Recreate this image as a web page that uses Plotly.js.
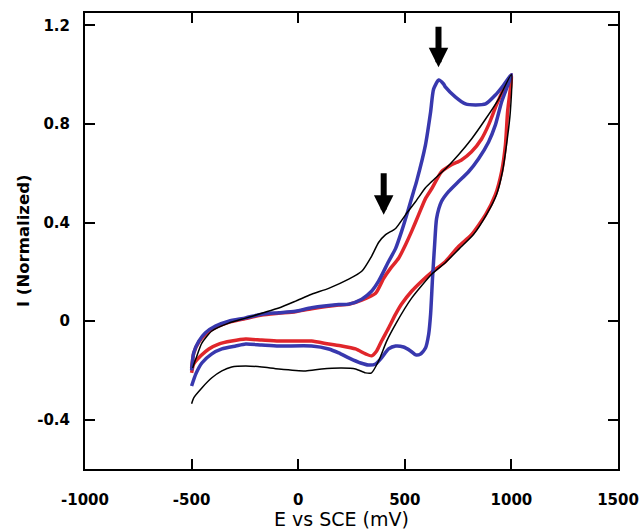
<!DOCTYPE html>
<html>
<head>
<meta charset="utf-8">
<script src="https://cdn.plot.ly/plotly-3.0.1.min.js"></script>
<style>html,body{margin:0;padding:0;background:#fff;}#chart{width:639px;height:529px;}</style>
</head>
<body>
<div id="chart"></div>
<script>
// Potential (mV) and normalized current for each voltammogram
const blackE = [-495,-480,-452,-405,-326,-246,-171,-91,-12,63,143,237,298,344,377,410,457,504,551,597,626,691,752,813,879,940,1000,
  995,977,958,930,883,822,757,691,626,532,457,415,377,344,316,269,204,110,35,-91,-171,-246,-312,-358,-405,-452,-490,-500];
const blackI = [-0.19,-0.153,-0.089,-0.040,-0.008,0.012,0.032,0.053,0.081,0.109,0.133,0.170,0.202,0.263,0.319,0.351,0.376,0.432,0.485,0.541,0.566,0.618,0.675,0.739,0.820,0.901,1.0,
  0.85,0.715,0.606,0.513,0.432,0.351,0.295,0.238,0.190,0.093,-0.012,-0.081,-0.162,-0.210,-0.210,-0.194,-0.190,-0.194,-0.202,-0.194,-0.186,-0.182,-0.186,-0.202,-0.230,-0.271,-0.311,-0.335];

const redE = [-500,-490,-466,-430,-385,-326,-247,-171,-91,-13,63,190,237,298,363,401,433,471,504,532,565,597,626,672,719,766,813,860,893,930,963,1000,
  982,972,954,925,879,813,752,691,626,579,532,485,457,424,391,368,344,316,269,204,143,63,-91,-171,-246,-312,-373,-419,-457,-490,-500];
const redI = [-0.19,-0.13,-0.085,-0.05,-0.025,-0.005,0.01,0.025,0.032,0.038,0.05,0.065,0.068,0.085,0.113,0.174,0.214,0.255,0.311,0.364,0.432,0.497,0.537,0.606,0.634,0.654,0.687,0.739,0.796,0.877,0.941,1.0,
  0.848,0.715,0.606,0.513,0.432,0.351,0.303,0.242,0.198,0.162,0.121,0.069,0.028,-0.028,-0.081,-0.121,-0.141,-0.133,-0.113,-0.101,-0.093,-0.081,-0.081,-0.077,-0.073,-0.081,-0.093,-0.113,-0.141,-0.174,-0.21];

const blueE = [-500,-490,-466,-435,-388,-326,-247,-171,-91,-13,63,190,237,298,344,377,401,424,457,485,518,541,555,597,621,635,659,682,691,738,785,832,879,925,963,1000,
  954,925,893,846,799,752,705,672,649,640,630,621,612,597,574,551,527,494,457,424,391,363,330,293,237,190,143,63,-91,-171,-246,-293,-358,-405,-452,-480,-500];
const blueI = [-0.2,-0.128,-0.081,-0.047,-0.020,0.0,0.013,0.028,0.034,0.040,0.054,0.067,0.069,0.089,0.121,0.162,0.202,0.242,0.295,0.364,0.457,0.525,0.566,0.715,0.848,0.941,0.978,0.962,0.949,0.909,0.881,0.877,0.881,0.917,0.957,1.0,
  0.889,0.796,0.727,0.659,0.606,0.566,0.525,0.485,0.416,0.311,0.174,0.028,-0.053,-0.109,-0.133,-0.137,-0.121,-0.105,-0.101,-0.113,-0.149,-0.174,-0.178,-0.170,-0.149,-0.129,-0.113,-0.101,-0.101,-0.097,-0.093,-0.101,-0.113,-0.133,-0.170,-0.214,-0.263];

const xTicks = [-1000,-500,0,500,1000,1500];
const yTicks = [-0.4,0,0.4,0.8,1.2];
const yTickText = ['-0.4','0','0.4','0.8','1.2'];
const xTitle = 'E vs SCE (mV)';
const yTitle = 'I (Normalized)';

// Arrow markers: [potential, head current, tail current]
const arrowE = [658, 401];
const arrowHead = [1.03, 0.432];
const arrowTail = [1.2, 0.606];

const traces = [
  {x: redE, y: redI, mode: 'lines', line: {color: '#e0262b', width: 3.5, shape: 'spline', smoothing: 0.6}, hoverinfo: 'skip'},
  {x: blueE, y: blueI, mode: 'lines', line: {color: '#3838ae', width: 3.5, shape: 'spline', smoothing: 0.6}, hoverinfo: 'skip'},
  {x: blackE, y: blackI, mode: 'lines', line: {color: '#000000', width: 1.5, shape: 'spline', smoothing: 0.6}, hoverinfo: 'skip'}
];

const annotations = arrowE.map((e, i) => ({
  x: e, y: arrowHead[i], ax: e, ay: arrowTail[i], axref: 'x', ayref: 'y', xref: 'x', yref: 'y',
  showarrow: true, arrowhead: 2, arrowwidth: 6, arrowsize: 0.65, arrowcolor: '#000', text: ''
}));
annotations.push({
  text: xTitle, xref: 'paper', yref: 'paper', x: 0.482, y: -0.1096, xanchor: 'center', yanchor: 'middle',
  showarrow: false, font: {family: 'DejaVu Sans', size: 19, color: '#000'}
});
annotations.push({
  text: yTitle, xref: 'paper', yref: 'paper', x: -0.1163, y: 0.5, xanchor: 'center', yanchor: 'middle',
  textangle: -90, showarrow: false, font: {family: 'DejaVu Sans', size: 16.5, color: '#000', weight: 'bold'}
});

const tickFont = {family: 'DejaVu Sans', size: 15, color: '#000', weight: 'bold'};

const layout = {
  width: 639, height: 529,
  margin: {l: 85, r: 21, t: 13, b: 60, pad: 0},
  paper_bgcolor: '#fff', plot_bgcolor: '#fff',
  showlegend: false,
  xaxis: {
    range: [-1000, 1500], tickvals: xTicks, ticktext: xTicks.map(String),
    ticks: 'inside', ticklen: 10, tickwidth: 2, tickcolor: '#000',
    showline: true, linewidth: 2, linecolor: '#000', mirror: 'ticks',
    showgrid: false, zeroline: false, tickfont: tickFont, ticklabelstandoff: 16
  },
  yaxis: {
    range: [-0.6, 1.25], tickvals: yTicks, ticktext: yTickText,
    ticks: 'inside', ticklen: 10, tickwidth: 2, tickcolor: '#000',
    showline: true, linewidth: 2, linecolor: '#000', mirror: 'ticks',
    showgrid: false, zeroline: false, tickfont: tickFont, ticklabelstandoff: 10
  },
  annotations: annotations
};

Plotly.newPlot('chart', traces, layout, {staticPlot: true, displayModeBar: false});
</script>
</body>
</html>
